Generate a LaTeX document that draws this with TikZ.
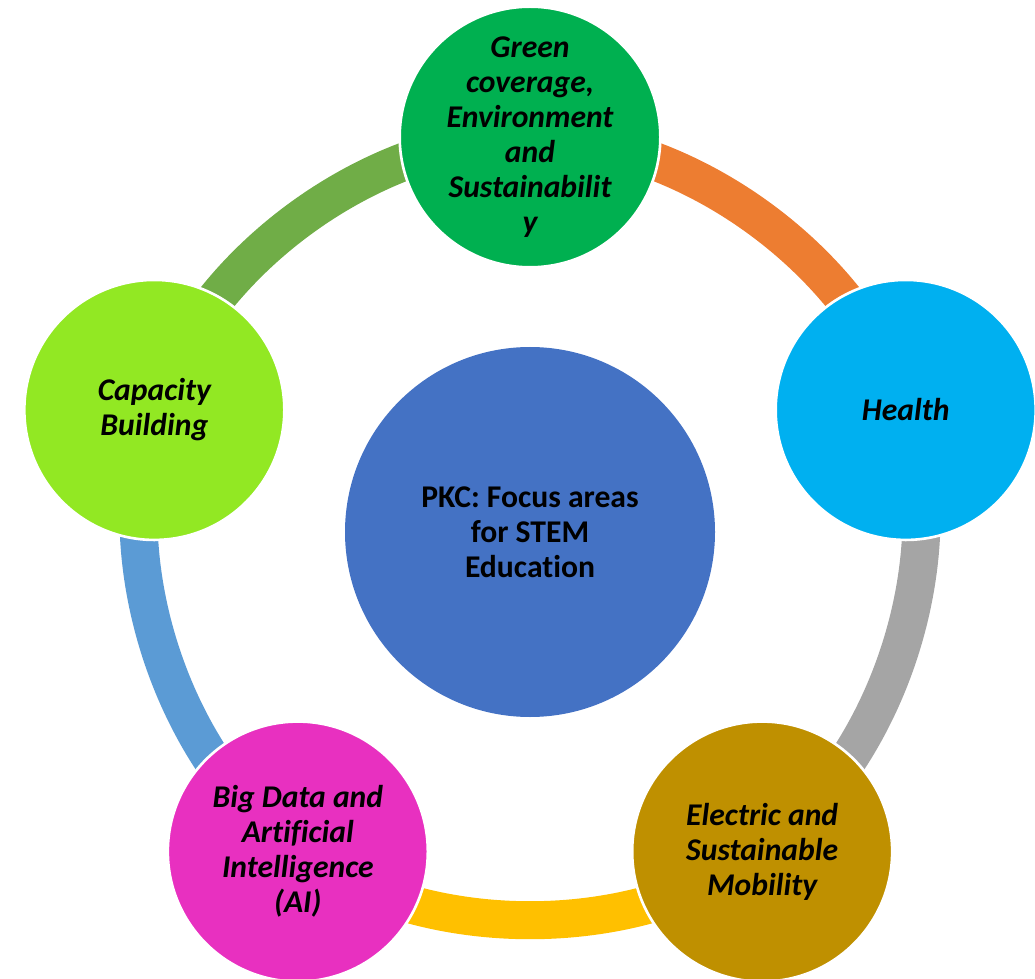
\documentclass[tikz,border=0pt]{standalone}
\usepackage{fontspec}
\setmainfont{Carlito}[Ligatures=NoCommon]
\usetikzlibrary{backgrounds}

\definecolor{hubblue}{HTML}{4472C4}
\definecolor{greenarea}{HTML}{00B050}
\definecolor{healtharea}{HTML}{00B0F0}
\definecolor{mobilityarea}{HTML}{BF9000}
\definecolor{dataarea}{HTML}{E830C0}
\definecolor{capacityarea}{HTML}{92E823}
\definecolor{linkorange}{HTML}{ED7D31}
\definecolor{linkgray}{HTML}{A5A5A5}
\definecolor{linkyellow}{HTML}{FFC000}
\definecolor{linkblue}{HTML}{5B9BD5}
\definecolor{linkgreen}{HTML}{70AD47}

\begin{document}
\begin{tikzpicture}[
    area/.style={circle, minimum size=5.2cm, inner sep=0pt, draw=white, line width=1.5pt,
        align=center, font=\fontsize{18}{19.9}\selectfont\bfseries\itshape},
    hub/.style={circle, minimum size=7.4cm, inner sep=0pt, fill=hubblue,
        align=center, font=\fontsize{18}{19.9}\selectfont\bfseries},
    link/.style={line width=0.76cm, bend left=36, looseness=0.86}
]
    \useasboundingbox (0,0) rectangle (20.7,19.56);

    % Central circle
    \node[hub] (hub) at (10.6,8.92) {PKC: Focus areas\\for STEM\\Education};

    % Focus areas around the ring
    \node[area, fill=greenarea] (green) at ([shift={(90:7.9)}]hub)
        {Green\\coverage,\\Environment\\and\\Sustainabilit\\y};
    \node[area, fill=healtharea] (health) at ([shift={(18:7.9)}]hub) {Health};
    \node[area, fill=mobilityarea] (mobility) at ([shift={(-54:7.9)}]hub)
        {Electric and\\Sustainable\\Mobility};
    \node[area, fill=dataarea] (data) at ([shift={(-126:7.9)}]hub)
        {Big Data and\\Artificial\\Intelligence\\(AI)};
    \node[area, fill=capacityarea] (capacity) at ([shift={(162:7.9)}]hub)
        {Capacity\\Building};

    % Ring segments behind the circles
    \begin{pgfonlayer}{background}
        \draw[link, linkorange] (green.center) to (health.center);
        \draw[link, linkgray] (health.center) to (mobility.center);
        \draw[link, linkyellow] (mobility.center) to (data.center);
        \draw[link, linkblue] (data.center) to (capacity.center);
        \draw[link, linkgreen] (capacity.center) to (green.center);
    \end{pgfonlayer}

\end{tikzpicture}
\end{document}
